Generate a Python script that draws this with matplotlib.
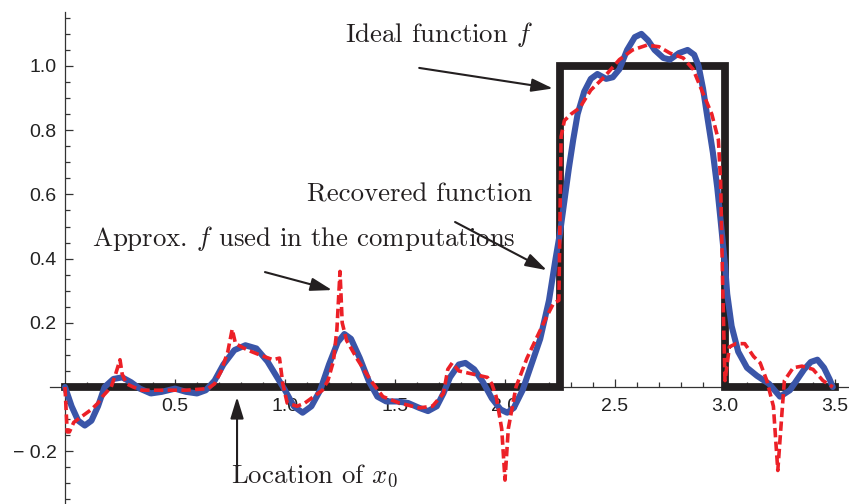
import numpy as np
import matplotlib
matplotlib.use('Agg')
from matplotlib import pyplot as plt
from matplotlib.ticker import FixedLocator

# ideal step function f
ideal_x = [0.0, 2.25, 2.25, 3.0, 3.0, 3.5]
ideal_y = [0.0, 0.0, 1.0, 1.0, 0.0, 0.0]

# recovered function (blue)
rec_x = [0.0, 0.03, 0.06, 0.09, 0.12, 0.15, 0.18, 0.22, 0.26, 0.30, 0.34, 0.39,
         0.44, 0.50, 0.55, 0.60, 0.64, 0.68, 0.72, 0.77, 0.82, 0.87, 0.92, 0.96,
         1.00, 1.04, 1.08, 1.12, 1.16, 1.20, 1.24, 1.27, 1.30, 1.34, 1.38, 1.42,
         1.46, 1.51, 1.56, 1.61, 1.65, 1.69, 1.72, 1.75, 1.79, 1.82, 1.86, 1.90,
         1.94, 1.98, 2.01, 2.04, 2.08, 2.12, 2.16, 2.20, 2.23, 2.25, 2.27, 2.29,
         2.31, 2.33, 2.36, 2.39, 2.42, 2.46, 2.49, 2.52, 2.555, 2.59, 2.62, 2.65,
         2.68, 2.72, 2.75, 2.79, 2.83, 2.86, 2.88, 2.90, 2.92, 2.945, 2.965, 2.98,
         3.00, 3.01, 3.03, 3.06, 3.10, 3.145, 3.20, 3.25, 3.295, 3.33, 3.36, 3.39,
         3.42, 3.45, 3.475, 3.49]
rec_y = [0.0, -0.06, -0.105, -0.12, -0.105, -0.06, 0.0, 0.025, 0.03, 0.015, -0.005, -0.02,
         -0.015, -0.005, -0.015, -0.02, -0.01, 0.02, 0.07, 0.115, 0.13, 0.12, 0.08, 0.035,
         -0.01, -0.06, -0.08, -0.06, -0.01, 0.07, 0.14, 0.165, 0.15, 0.09, 0.02, -0.03,
         -0.045, -0.045, -0.05, -0.065, -0.075, -0.06, -0.02, 0.03, 0.07, 0.075, 0.055, 0.015,
         -0.035, -0.07, -0.08, -0.065, -0.01, 0.07, 0.15, 0.27, 0.40, 0.48, 0.58, 0.68,
         0.77, 0.85, 0.92, 0.96, 0.975, 0.96, 0.965, 0.99, 1.05, 1.09, 1.10, 1.08,
         1.05, 1.025, 1.02, 1.04, 1.05, 1.035, 1.0, 0.93, 0.84, 0.73, 0.62, 0.52,
         0.38, 0.29, 0.19, 0.11, 0.06, 0.035, 0.01, -0.03, -0.01, 0.025, 0.055, 0.078,
         0.085, 0.06, 0.025, 0.0]

# approximate f used in the computations (red dashed)
app_x = [0.0, 0.01, 0.02, 0.04, 0.08, 0.12, 0.15, 0.17, 0.21, 0.23, 0.25, 0.26,
         0.28, 0.31, 0.35, 0.45, 0.55, 0.65, 0.68, 0.71, 0.74, 0.76, 0.775, 0.83,
         0.885, 0.945, 0.975, 0.99, 1.01, 1.055, 1.09, 1.13, 1.17, 1.195, 1.22, 1.236,
         1.25, 1.26, 1.28, 1.33, 1.39, 1.445, 1.52, 1.61, 1.67, 1.72, 1.74, 1.76,
         1.79, 1.855, 1.92, 1.94, 1.96, 1.985, 2.0, 2.015, 2.05, 2.10, 2.145, 2.19,
         2.22, 2.245, 2.255, 2.27, 2.30, 2.34, 2.39, 2.45, 2.52, 2.58, 2.645, 2.70,
         2.75, 2.81, 2.855, 2.90, 2.94, 2.97, 2.98, 2.99, 3.0, 3.02, 3.05, 3.09,
         3.13, 3.16, 3.19, 3.22, 3.24, 3.26, 3.27, 3.31, 3.35, 3.40, 3.445, 3.49]
app_y = [0.0, -0.14, -0.14, -0.11, -0.09, -0.07, -0.05, -0.03, 0.0, 0.04, 0.085, 0.04,
         0.01, 0.0, -0.01, -0.01, -0.01, -0.005, 0.01, 0.05, 0.11, 0.18, 0.135, 0.115,
         0.10, 0.085, 0.09, 0.01, -0.05, -0.06, -0.05, -0.03, -0.01, 0.02, 0.08, 0.18,
         0.36, 0.20, 0.145, 0.085, 0.02, -0.03, -0.05, -0.065, -0.06, -0.02, 0.055, 0.075,
         0.05, 0.04, 0.03, 0.01, -0.03, -0.13, -0.29, -0.13, 0.0, 0.09, 0.155, 0.22,
         0.26, 0.27, 0.78, 0.83, 0.85, 0.87, 0.925, 0.965, 1.02, 1.05, 1.065, 1.06,
         1.04, 1.025, 0.99, 0.915, 0.85, 0.77, 0.64, 0.3, 0.02, 0.125, 0.135, 0.135,
         0.095, 0.075, 0.02, -0.06, -0.26, -0.07, 0.02, 0.06, 0.065, 0.055, 0.02, 0.0]

y_major = [-0.2, 0.2, 0.4, 0.6, 0.8, 1.0]
y_labels = ['\u2212 0.2', '0.2', '0.4', '0.6', '0.8', '1.0']
x_major = [0.5, 1.0, 1.5, 2.0, 2.5, 3.0, 3.5]
x_labels = ['0.5', '1.0', '1.5', '2.0', '2.5', '3.0', '3.5']

plt.rcParams['mathtext.fontset'] = 'cm'

fig = plt.figure(figsize=(8.49, 5.04), dpi=100)
ax = fig.add_axes([0, 0, 1, 1])
ax.set_xlim(-65 / 220, 784 / 220)
ax.set_ylim(-117 / 321, 387 / 321)

ax.plot(ideal_x, ideal_y, c='#231f20', lw=5.6, solid_joinstyle='miter', zorder=3)
ax.plot(rec_x, rec_y, c='#3a55a8', lw=4.4, solid_capstyle='round',
        solid_joinstyle='round', zorder=4)
ax.plot(app_x, app_y, c='#ec2027', lw=2.6, dashes=(2.6, 1.2),
        dash_joinstyle='round', zorder=5)

# axes through the origin, Mathematica style
for s in ['top', 'right']:
    ax.spines[s].set_visible(False)
ax.spines['left'].set_position(('data', 0))
ax.spines['bottom'].set_position(('data', 0))
ax.spines['left'].set_bounds(-0.364, 1.168)
ax.spines['bottom'].set_bounds(-0.068, 3.564)
for s in ['left', 'bottom']:
    ax.spines[s].set_color('#333333')
    ax.spines[s].set_linewidth(0.9)

ax.yaxis.set_major_locator(FixedLocator(y_major))
ax.yaxis.set_minor_locator(FixedLocator(np.arange(-0.35, 1.16, 0.05)))
ax.set_yticklabels(y_labels)
ax.xaxis.set_major_locator(FixedLocator(x_major))
ax.xaxis.set_minor_locator(FixedLocator(np.arange(0.1, 3.51, 0.1)))
ax.set_xticklabels(x_labels)
ax.tick_params(which='both', direction='in', color='#333333', width=0.9,
               labelsize=14, labelcolor='#222222')
ax.tick_params(which='major', length=6)
ax.tick_params(which='minor', length=3.5)
ax.tick_params(axis='y', pad=6)
ax.tick_params(axis='x', pad=8)
for lab in ax.get_xticklabels() + ax.get_yticklabels():
    lab.set_family('Liberation Sans')

arrow = dict(arrowstyle='-|>,head_width=0.4,head_length=1.3', color='#231f20',
             lw=1.5, shrinkA=0, shrinkB=0)
tfont = dict(family='cmr10', size=19.3, color='#231f20', ha='left', va='center')

ax.annotate('', xy=(2.218, 0.93), xytext=(1.61, 0.994), arrowprops=arrow)
ax.text(1.273, 1.097, 'Ideal function $f$', **tfont)

ax.annotate('', xy=(2.19, 0.364), xytext=(1.773, 0.514), arrowprops=arrow)
ax.text(1.10, 0.598, 'Recovered function', **tfont)

ax.annotate('', xy=(1.214, 0.302), xytext=(0.909, 0.358), arrowprops=arrow)
ax.text(0.123, 0.464, 'Approx. $f$ used in the computations', **tfont)

ax.annotate('', xy=(0.782, -0.031), xytext=(0.782, -0.243), arrowprops=arrow)
ax.text(0.755, -0.277, 'Location of $x_0$', **tfont)

fig.savefig('out.png', dpi=100)
